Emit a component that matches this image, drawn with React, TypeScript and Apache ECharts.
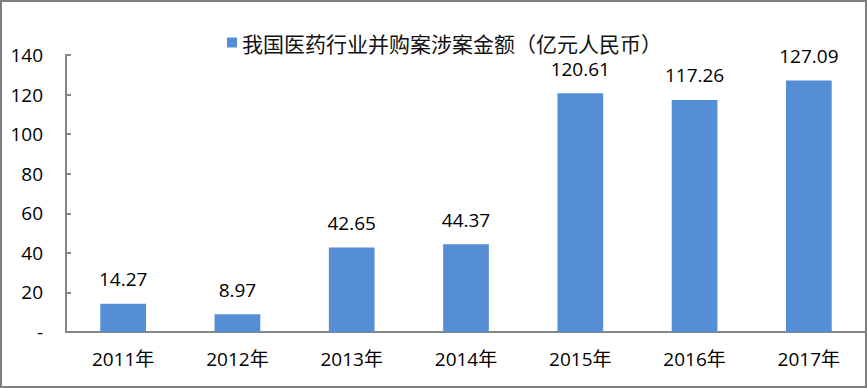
import React, { useEffect, useRef } from "react";
import * as echarts from "echarts";

const categories = ["2011年", "2012年", "2013年", "2014年", "2015年", "2016年", "2017年"];
const values = [14.27, 8.97, 42.65, 44.37, 120.61, 117.26, 127.09];
const seriesName = "我国医药行业并购案涉案金额（亿元人民币）";
const yTicks = { min: 0, max: 140, interval: 20 };

export default function App() {
  const ref = useRef<HTMLDivElement>(null);
  useEffect(() => {
    if (!ref.current) return;
    const chart = echarts.init(ref.current, null, { renderer: "svg" });
    const axisColor = "#868686";
    const numFont = "'Open Sans', 'Noto Sans CJK SC', sans-serif";
    chart.setOption({
      animation: false,
      textStyle: { fontFamily: numFont },
      graphic: [
        {
          type: "rect",
          shape: { x: 1, y: 1, width: 865, height: 386 },
          style: { fill: "none", stroke: "#7f7f7f", lineWidth: 2 },
          silent: true,
          z: 100,
        },
      ],
      legend: {
        left: 222,
        top: 27,
        itemWidth: 10,
        itemHeight: 10,
        itemGap: 10,
        icon: "rect",
        textStyle: {
          fontSize: 21,
          color: "#111",
          padding: [0, 0, 0, 0],
          fontFamily: "'Noto Sans CJK SC', sans-serif",
        },
        data: [seriesName],
      },
      grid: { left: 66, top: 55, bottom: 56, right: 1, containLabel: false },
      xAxis: {
        type: "category",
        data: categories,
        axisLine: { lineStyle: { color: axisColor, width: 2 } },
        axisTick: { inside: true, length: 5, lineStyle: { color: axisColor, width: 2 } },
        axisLabel: {
          fontSize: 19,
          color: "#000",
          margin: 17,
          fontFamily: numFont,
        },
        splitLine: { show: false },
      },
      yAxis: {
        type: "value",
        min: yTicks.min,
        max: yTicks.max,
        interval: yTicks.interval,
        axisLine: { show: true, lineStyle: { color: axisColor, width: 2 } },
        axisTick: { show: true, inside: true, length: 5, lineStyle: { color: axisColor, width: 2 } },
        splitLine: { show: false },
        axisLabel: {
          fontSize: 19,
          color: "#000",
          margin: 23,
          formatter: (v: number) => (v === 0 ? "-" : String(v)),
        },
      },
      series: [
        {
          name: seriesName,
          type: "bar",
          data: values,
          barWidth: "40%",
          itemStyle: { color: "#558ED5" },
          label: {
            show: true,
            position: "top",
            distance: 15,
            fontSize: 19,
            color: "#000",
            formatter: (p: any) => p.value.toFixed(2),
          },
        },
      ],
    });
    return () => chart.dispose();
  }, []);
  return (
    <div
      ref={ref}
      style={{ position: "fixed", left: 0, top: 0, width: 867, height: 388, background: "#fff" }}
    />
  );
}
